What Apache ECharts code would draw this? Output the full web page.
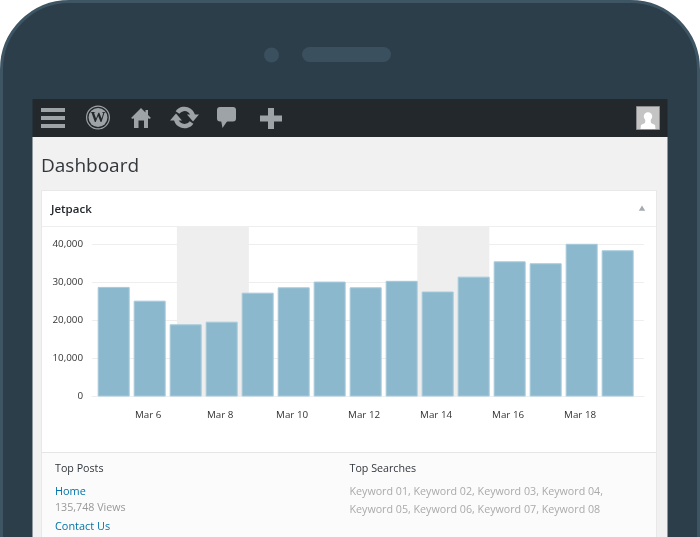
<!DOCTYPE html>
<html><head><meta charset="utf-8">
<style>html,body{margin:0;padding:0;background:#fff}#c{width:700px;height:537px}</style>
<script src="https://cdn.jsdelivr.net/npm/echarts@6/dist/echarts.min.js"></script>
</head><body><div id="c"></div>
<script>
const days = [5,6,7,8,9,10,11,12,13,14,15,16,17,18,19];
const views = [28700,25100,18900,19600,27200,28600,30100,28600,30300,27500,31400,35400,34900,40000,38300];
const weekends = [[6.77,8.77],[13.45,15.45]];
const yTicks = [0,10000,20000,30000,40000];
const xTicks = [6,8,10,12,14,16,18];
const topPosts = ['Home','135,748 Views','Contact Us'];
const keywordLines = ['Keyword 01, Keyword 02, Keyword 03, Keyword 04,','Keyword 05, Keyword 06, Keyword 07, Keyword 08'];

const F = '"Open Sans"';
const ICON = '#9ea3a8';
const BAR = '#23282d';
const rect=(x,y,w,h,fill,r,extra)=>Object.assign({type:'rect',z:-5,silent:true,shape:{x,y,width:w,height:h,r:r||0},style:{fill}},extra||{});
const text=(x,y,t,size,fill,weight)=>({type:'text',z:-1,silent:true,x,y,style:{text:t,font:(weight||400)+' '+size+'px '+F,fill,textVerticalAlign:'middle'}});
const poly=(points,fill,z)=>({type:'polygon',z:z||-2,silent:true,shape:{points},style:{fill}});
const arc=(cx,cy,r,a,b)=>({type:'arc',z:-2,silent:true,shape:{cx,cy,r,startAngle:a*Math.PI/180,endAngle:b*Math.PI/180,clockwise:true},style:{fill:'none',stroke:ICON,lineWidth:4.4}});

const chrome = [
  rect(1.5,1.5,697,700,'#2c3e49',68,{style:{fill:'#2c3e49',stroke:'#3e5564',lineWidth:3}}),
  {type:'circle',z:-4,silent:true,shape:{cx:271.5,cy:55,r:7.5},style:{fill:'#3a505e'}},
  rect(302,47,89,15,'#3a505e',7.5,{z:-4}),
  rect(32.5,99,635,38,BAR,0,{z:-4}),
  rect(32.5,137,635,400,'#f1f1f1',0,{z:-4}),
  rect(41,190,616,347,'#e8e8e8',0,{z:-4}),
  rect(42,191,614,346,'#ffffff',0,{z:-3}),
  rect(42,226,614,1,'#eeeeee',0,{z:-3}),
  rect(42,452,614,1,'#e5e5e5',0,{z:-3}),
  rect(42,453,614,84,'#fbfbfb',0,{z:-3}),
  // admin bar icons
  rect(41,108,24,4,ICON,0,{z:-2}), rect(41,116,24,4,ICON,0,{z:-2}), rect(41,124,24,4,ICON,0,{z:-2}),
  {type:'circle',z:-2,silent:true,shape:{cx:98,cy:117.5,r:11.4},style:{fill:'none',stroke:ICON,lineWidth:1.2}},
  {type:'circle',z:-2,silent:true,shape:{cx:98,cy:117.5,r:9.4},style:{fill:ICON}},
  {type:'text',z:-1,silent:true,x:98,y:118,style:{text:'W',font:'700 15px "Liberation Serif"',fill:BAR,textAlign:'center',textVerticalAlign:'middle'}},
  poly([[141,108],[145.5,112.5],[145.5,110],[148,110],[148,115],[151,118],[149,119],[148,118],[148,128],[134,128],[134,118],[133,119],[131,118]],ICON),
  rect(138.5,120.5,5.5,7.5,BAR,0,{z:-1}),
  arc(184.5,117.5,8.6,215,352), arc(184.5,117.5,8.6,35,172),
  poly([[187,114.5],[199,114.5],[193,121.5]],ICON),
  poly([[170,120.5],[182,120.5],[176,113.5]],ICON),
  rect(217,107,19,14.5,ICON,3,{z:-2}),
  poly([[221,120],[228,120],[222.5,128]],ICON),
  rect(260,115.5,22,6,ICON,0,{z:-2}), rect(268,108,6,21,ICON,0,{z:-2}),
  rect(636.5,106.5,23,23,'#c4c4c4',0,{z:-3,style:{fill:'#c4c4c4',stroke:'#8c8c8c',lineWidth:1}}),
  {type:'circle',z:-2,silent:true,shape:{cx:648,cy:116.5,r:4.2},style:{fill:'#ffffff'}},
  poly([[645.5,119],[650.5,119],[651,123],[655,125],[655.5,129],[640.5,129],[641,125],[645,123]],'#ffffff'),
  poly([[642,205.5],[645.2,210.7],[638.8,210.7]],'#a5aaae'),
  // page text
  text(41,167,'Dashboard',19,'#32373c'),
  text(51,209.5,'Jetpack',11.5,'#23282d',600),
  text(55,468.5,'Top Posts',10.7,'#32373c'),
  text(349.5,468.5,'Top Searches',10.7,'#32373c'),
  text(55,492,topPosts[0],10.9,'#0073aa'),
  text(55,507.5,topPosts[1],10.7,'#999999'),
  text(55,526.5,topPosts[2],10.9,'#0073aa'),
  text(349.5,492,keywordLines[0],10.7,'#aaaaaa'),
  text(349.5,509.5,keywordLines[1],10.7,'#aaaaaa')
];

const chart = echarts.init(document.getElementById('c'));
chart.setOption({
  animation:false,
  graphic:{elements:chrome},
  grid:{left:92,right:56,top:226.5,height:170},
  xAxis:{
    type:'value',min:4.413,max:19.747,
    axisLine:{show:true,onZero:true,lineStyle:{color:'#eeeeee',width:1}},
    axisTick:{show:false},splitLine:{show:false},
    axisLabel:{margin:14,fontFamily:F,fontSize:9.8,color:'#333333',padding:[0,2,0,0],
      customValues:xTicks,formatter:v=>'Mar '+v}
  },
  yAxis:{
    type:'value',min:0,max:44530,interval:10000,
    axisLine:{show:false},axisTick:{show:false},
    splitLine:{show:true,showMaxLine:false,lineStyle:{color:'#eeeeee',width:1}},
    axisLabel:{margin:9,fontFamily:F,fontSize:9.8,color:'#333333',showMaxLabel:false,padding:[2,0,0,0],
      formatter:v=>yTicks.includes(v)?v.toLocaleString('en-US'):''}
  },
  series:[
    {type:'bar',z:1,data:[],silent:true,
     markArea:{silent:true,itemStyle:{color:'#eeeeee'},data:weekends.map(w=>[{xAxis:w[0],yAxis:44530},{xAxis:w[1],yAxis:0}])}},
    {type:'bar',z:3,barWidth:32,silent:true,data:days.map((d,i)=>[d,views[i]]),
     itemStyle:{color:'#8cb8cd',borderColor:'#a6cadb',borderWidth:1}}
  ]
});
</script></body></html>
